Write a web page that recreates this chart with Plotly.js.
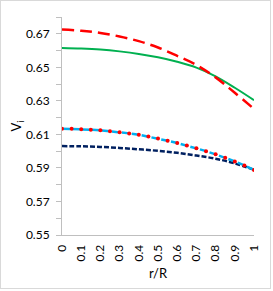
<!DOCTYPE html>
<html>
<head>
<meta charset="utf-8">
<script src="https://cdn.plot.ly/plotly-3.0.1.min.js"></script>
<style>
html,body{margin:0;padding:0;background:#fff;}
#wrap{position:relative;width:273px;height:291px;}
#chart{width:273px;height:291px;}
#frame{position:absolute;left:0;top:0;width:269px;height:287px;border:1px solid #d9d9d9;pointer-events:none;}
</style>
</head>
<body>
<div id="wrap"><div id="chart"></div><div id="frame"></div></div>
<script>
// r/R positions
const rCoarse = [0,0.1,0.2,0.3,0.4,0.5,0.6,0.7,0.8,0.9,1.0];
const rFine = [0,0.05,0.1,0.15,0.2,0.25,0.3,0.35,0.4,0.45,0.5,0.55,0.6,0.65,0.7,0.75,0.8,0.85,0.9,0.95,1.0];
// series values (V_i)
const redDashed = [0.6725,0.6718,0.6705,0.6684,0.6656,0.6618,0.6568,0.6514,0.6440,0.6348,0.6252];
const greenSolid = [0.6615,0.6612,0.6606,0.6595,0.6580,0.6560,0.6533,0.6498,0.6446,0.6378,0.6304];
const cyanDotted = [0.6134,0.6133,0.6131,0.6128,0.6124,0.6119,0.6113,0.6106,0.6098,0.6087,0.6075,0.6062,0.6049,0.6034,0.6017,0.6000,0.5981,0.5961,0.5939,0.5915,0.5888];
const navyDashed = [0.6030,0.6029,0.6025,0.6019,0.6011,0.6002,0.5990,0.5974,0.5955,0.5927,0.5889];
// tick labels
const yTickVals = [0.55,0.57,0.59,0.61,0.63,0.65,0.67];
const yTickText = ['0.55','0.57','0.59','0.61','0.63','0.65','0.67'];
const xTickVals = [0,0.1,0.2,0.3,0.4,0.5,0.6,0.7,0.8,0.9,1];
const xTickText = ['0','0.1','0.2','0.3','0.4','0.5','0.6','0.7','0.8','0.9','1'];

const FONT = 'Lato, "Open Sans", sans-serif';

const traces = [
  {x:rCoarse, y:greenSolid, mode:'lines', line:{color:'#00B050', width:2, shape:'spline'}},
  {x:rCoarse, y:redDashed, mode:'lines', line:{color:'#FF0000', width:2.5, dash:'12px,6px', shape:'spline'}},
  {x:rCoarse, y:navyDashed, mode:'lines', line:{color:'#002060', width:2.5, dash:'5px,2px', shape:'spline'}},
  {x:rFine, y:cyanDotted, mode:'lines+markers', line:{color:'#00B0F0', width:2.5, dash:'8px,2px'},
   marker:{color:'#FF0000', size:4, symbol:'circle'}}
];

const layout = {
  width:273, height:291,
  margin:{l:62, r:18, t:17, b:52, pad:0},
  paper_bgcolor:'#fff', plot_bgcolor:'#fff',
  showlegend:false,
  font:{family:FONT, size:12, color:'#000'},
  xaxis:{
    range:[0,1], tickvals:xTickVals, ticktext:xTickText, tickangle:-90,
    showgrid:false, zeroline:false, showline:true, linecolor:'#bfbfbf', linewidth:1,
    ticks:'', ticklabelstandoff:4, automargin:true,
    tickfont:{family:FONT, size:12, color:'#000'},
    title:{text:'r/R', font:{family:FONT, size:13, color:'#000'}, standoff:8}
  },
  yaxis:{
    range:[0.55,0.68], tickvals:yTickVals, ticktext:yTickText,
    showgrid:false, zeroline:false, showline:true, linecolor:'#bfbfbf', linewidth:1,
    ticks:'outside', ticklen:5, tickcolor:'#bfbfbf', ticklabelstandoff:4, automargin:true,
    minor:{dtick:0.01, tick0:0.55, ticks:'outside', ticklen:5, tickcolor:'#bfbfbf', showgrid:false},
    tickfont:{family:FONT, size:12, color:'#000'},
    title:{text:'V<sub>i</sub>', font:{family:FONT, size:13, color:'#000'}, standoff:0}
  }
};

Plotly.newPlot('chart', traces, layout, {displayModeBar:false, staticPlot:true});
</script>
</body>
</html>
